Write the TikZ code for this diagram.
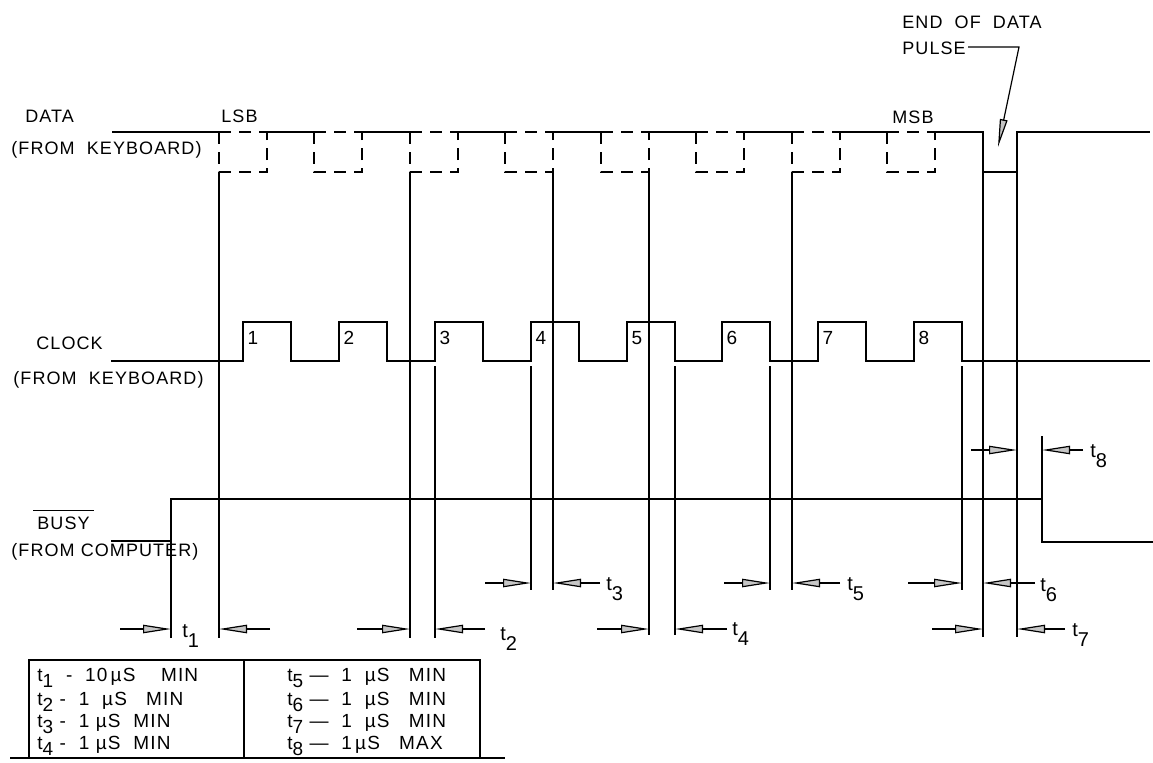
\documentclass[tikz,border=0pt]{standalone}
\usepackage{fontspec}
\setmainfont{Liberation Sans}[LetterSpace=6]
\usetikzlibrary{arrows.meta}
\newcommand\tsb[1]{t\raisebox{-5pt}{#1}}
\newcommand\ttb[1]{t\raisebox{-3pt}{#1}}
\begin{document}
\begin{tikzpicture}[x=0.5pt,y=-0.5pt,
  wave/.style={line width=0.8pt},
  guide/.style={line width=0.7pt},
  dsh/.style={line width=0.8pt,dash pattern=on 6pt off 4pt},
  dimarr/.style={line width=0.6pt,-{Triangle[length=14pt,width=4.2pt,fill=gray!45]}},
  lbl/.style={font=\fontsize{9}{10}\selectfont,inner sep=0pt,anchor=west},
  tlbl/.style={font=\fontsize{10}{11}\selectfont,inner sep=0pt,anchor=base west},
  tab/.style={font=\fontsize{9.5}{10}\selectfont,inner sep=0pt,anchor=west}]
\useasboundingbox (0,0) rectangle (1153,762);

% ---------- labels ----------
\node[lbl] (ldata) at (25,116) {DATA};
\node[lbl] (ldatak) at (11,150) {(FROM\ \ KEYBOARD)};
\node[lbl] (llsb) at (221,116) {LSB};
\node[lbl] (lmsb) at (892,117) {MSB};
\node[lbl] (leod) at (902,22) {END\ \ OF\ \ DATA};
\node[lbl] (lpulse) at (902,48) {PULSE};
\node[lbl] (lclock) at (36,343) {CLOCK};
\node[lbl] (lclockk) at (13,380) {(FROM\ \ KEYBOARD)};
\node[lbl] (lbusy) at (37,523) {BUSY};
\draw[line width=0.6pt] ([xshift=-2pt,yshift=3pt]lbusy.north west) -- ([xshift=2pt,yshift=3pt]lbusy.north east);
\node[lbl] (lbusyc) at (11,552) {(FROM COMPUTER)};

% leader to end-of-data pulse
\coordinate (pl1) at (968,47);
\coordinate (pl2) at (1019,47);
\coordinate (pl3) at (998,147);
\draw[line width=0.6pt,-{Triangle[length=14pt,width=3.8pt,fill=gray!45]}] (pl1) -- (pl2) -- (pl3);

% ---------- DATA waveform ----------
\draw[wave] (112,132) -- (219,132);
\foreach \a in {219,314,410,505,601,696,792,887}{
  \draw[dsh] (\a,132) -- (\a+48,132);
  \draw[dsh] (\a,132) -- (\a,172) -- (\a+48,172) -- (\a+48,132);
}
\foreach \a/\b in {267/314,362/410,458/505,553/601,649/696,744/792,840/887}{
  \draw[wave] (\a,132) -- (\b,132);
}
\draw[wave] (935,132) -- (983,132) -- (983,172) -- (1017,172) -- (1017,132) -- (1150,132);

% ---------- CLOCK waveform ----------
\draw[wave] (111,361)
  \foreach \r in {243,339,435,531,627,722,818,914}{
    -- (\r,361) -- (\r,322) -- (\r+48,322) -- (\r+48,361)
  } -- (1150,361);
\foreach \r/\n in {243/1,339/2,435/3,531/4,627/5,722/6,818/7,914/8}{
  \node[font=\fontsize{9.5}{10}\selectfont,inner sep=0pt] (cn\n) at (\r+10,338) {\n};
}

% ---------- BUSY waveform ----------
\draw[wave] (111,541) -- (171,541);
\draw[wave] (171,638) -- (171,499) -- (1042,499) -- (1042,542) -- (1153,542);

% ---------- guide lines ----------
\foreach \x/\ya/\yb in {219/172/638, 410/172/638, 435/366/638, 531/366/590,
  553/172/590, 649/172/635, 675/366/635, 770/366/590, 792/172/590,
  962/366/590, 983/172/637, 1017/172/637, 1042/436/499}{
  \draw[guide] (\x,\ya) -- (\x,\yb);
}

% ---------- timing arrows ----------
% t8
\draw[dimarr] (971,450) -- (1017,450);
\draw[dimarr] (1083,450) -- (1042,450);
\node[tlbl] (t8) at (1090,457) {\tsb{8}};
% row y=583
\draw[dimarr] (485,583) -- (531,583);
\draw[dimarr] (600,583) -- (553,583);
\node[tlbl] (t3) at (606,590) {\tsb{3}};
\draw[dimarr] (724,583) -- (770,583);
\draw[dimarr] (840,583) -- (792,583);
\node[tlbl] (t5) at (847,590) {\tsb{5}};
\draw[dimarr] (908,583) -- (962,583);
\draw[dimarr] (1035,583) -- (983,583);
\node[tlbl] (t6) at (1040,591) {\tsb{6}};
% row y=629
\draw[dimarr] (120,629) -- (171,629);
\draw[dimarr] (270,629) -- (219,629);
\node[tlbl] (t1) at (182,637) {\tsb{1}};
\draw[dimarr] (357,629) -- (410,629);
\draw[dimarr] (485,629) -- (435,629);
\node[tlbl] (t2) at (500,640) {\tsb{2}};
\draw[dimarr] (597,629) -- (649,629);
\draw[dimarr] (727,629) -- (675,629);
\node[tlbl] (t4) at (732,635) {\tsb{4}};
\draw[dimarr] (932,629) -- (983,629);
\draw[dimarr] (1065,629) -- (1017,629);
\node[tlbl] (t7) at (1072,636) {\tsb{7}};

% ---------- table ----------
\draw[line width=0.7pt] (29,758) -- (29,660) -- (480,660) -- (480,758);
\draw[line width=0.7pt] (244,660) -- (244,758);
\draw[line width=0.7pt] (10,758) -- (505,758);
\node[tab] (r1) at (37,678) {\ttb{1}\ \ -\ \ 10\,µS\ \ \ \ MIN};
\node[tab] (r2) at (37,702) {\ttb{2}\ -\ \ 1\ \ µS\ \ \ MIN};
\node[tab] (r3) at (37,724) {\ttb{3}\ -\ \ 1\ µS\ \ MIN};
\node[tab] (r4) at (37,746) {\ttb{4}\ -\ \ 1\ µS\ \ MIN};
\node[tab] (r5) at (287,678) {\ttb{5}\ ---\ \ 1\ \ µS\ \ \ MIN};
\node[tab] (r6) at (287,702) {\ttb{6}\ ---\ \ 1\ \ µS\ \ \ MIN};
\node[tab] (r7) at (287,724) {\ttb{7}\ ---\ \ 1\ \ µS\ \ \ MIN};
\node[tab] (r8) at (287,746) {\ttb{8}\ ---\ \ 1\,µS\ \ \ MAX};
\end{tikzpicture}
\end{document}
